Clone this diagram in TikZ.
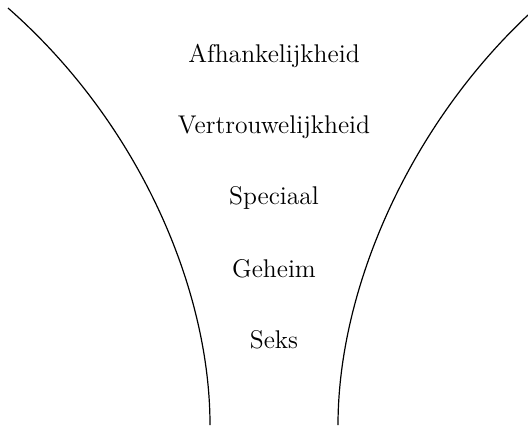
\documentclass[tikz,border=0pt]{standalone}
\usepackage{tikz}

\begin{document}
\begin{tikzpicture}[x=0.5pt, y=-0.5pt]
    \tikzset{stage/.style= {inner sep=0pt
    , node distance=35.5pt
    , font=\fontsize{12.8}{14}\selectfont
      }
    }
\useasboundingbox (0,0) rectangle (528,425);

\node [stage] (dep) at (274,56) {Afhankelijkheid};
\node [stage, below of=dep] (trust) {Vertrouwelijkheid};
\node [stage, below of=trust] (spec) {Speciaal};
\node [stage, below of=spec] (secret) {Geheim};
\node [stage, below of=secret] (sex) {Seks};

% funnel walls
\coordinate (ltop) at (8,8);
\coordinate (lbot) at (210,425);
\coordinate (rtop) at (528,15);
\coordinate (rbot) at (338,425);
 \draw[line width=0.6pt]
  (ltop) .. controls (140,124) and (210,290) .. (lbot);
 \draw[line width=0.6pt]
  (rtop) .. controls (408,128) and (338,290) .. (rbot);
\end{tikzpicture}
\end{document}
